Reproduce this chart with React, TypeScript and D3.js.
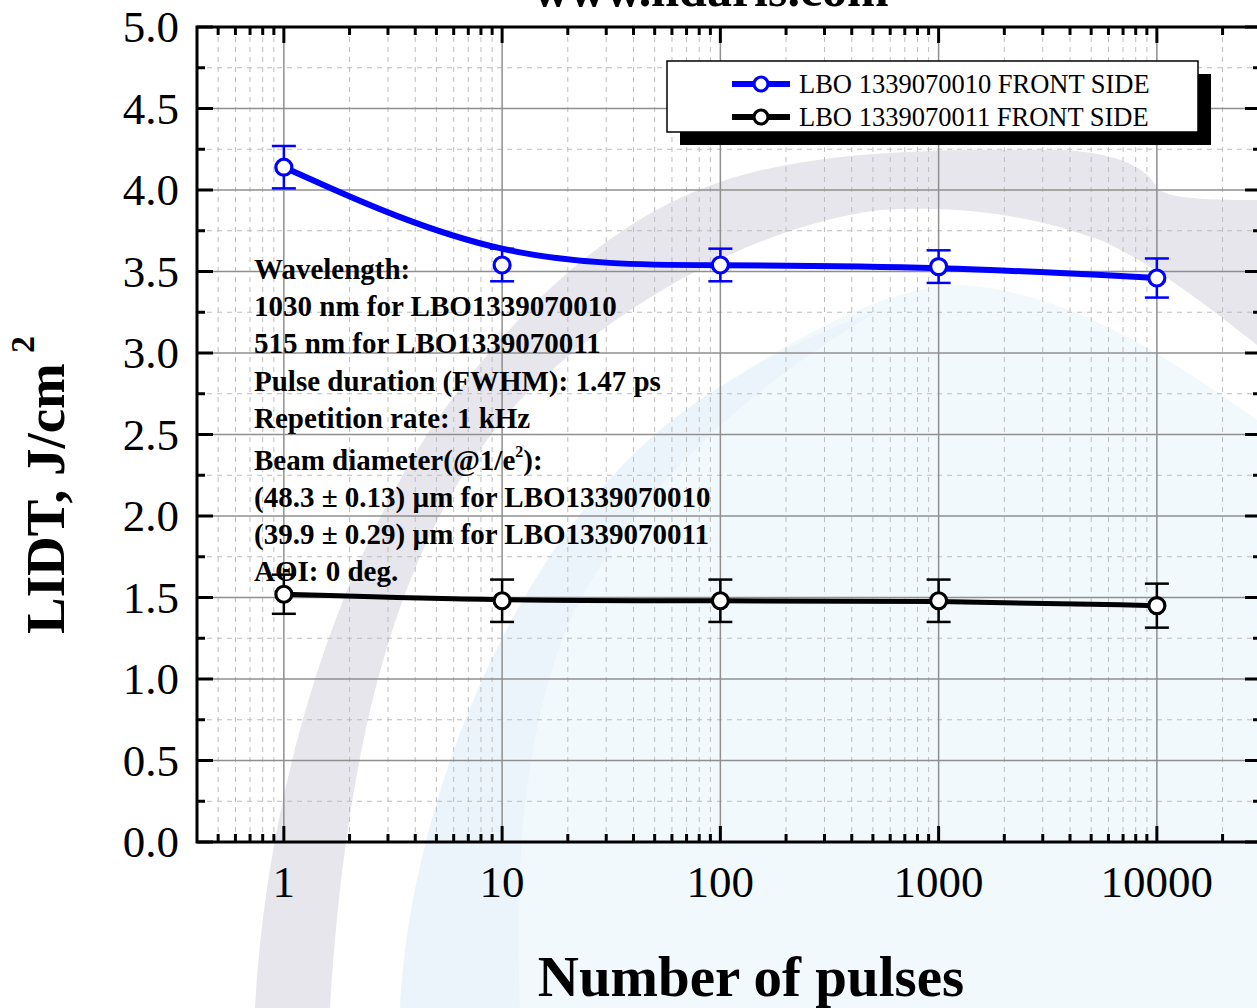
import React from "react";
import * as d3 from "d3";

const pulses = [1, 10, 100, 1000, 10000];
const blueValues = [4.14, 3.54, 3.54, 3.53, 3.46];
const blueErrors = [0.13, 0.1, 0.1, 0.1, 0.12];
const blackValues = [1.52, 1.48, 1.48, 1.48, 1.45];
const blackErrors = [0.12, 0.13, 0.13, 0.13, 0.135];
const seriesNames = ["LBO 1339070010 FRONT SIDE", "LBO 1339070011 FRONT SIDE"];
const xTickLabels = ["1", "10", "100", "1000", "10000"];
const yTickValues = [0, 0.5, 1, 1.5, 2, 2.5, 3, 3.5, 4, 4.5, 5];

const W = 1257;
const H = 1008;
const M = { left: 197, top: 27, right: 1261, bottom: 842 };
const SERIF = "'Liberation Serif', 'Times New Roman', serif";

export default function App() {
  const x = d3.scaleLog().domain([0.4, 30000]).range([M.left, M.right]);
  const y = d3.scaleLinear().domain([0, 5]).range([M.bottom, M.top]);

  const minorX: number[] = [];
  for (let e = -1; e <= 4; e++) {
    for (let k = 1; k <= 9; k++) {
      const v = k * Math.pow(10, e);
      if (v > 0.4 && v < 30000 && k !== 1) minorX.push(v);
    }
  }
  const majorX = pulses;
  const minorY = d3.range(0.25, 5, 0.5);

  const line = d3
    .line<number>()
    .x((_, i) => x(pulses[i]))
    .y((d) => y(d))
    .curve(d3.curveBasis);

  const series = [
    { values: blueValues, errors: blueErrors, color: "#0000ff", width: 6 },
    { values: blackValues, errors: blackErrors, color: "#000000", width: 5 },
  ];

  const infoLines: React.ReactNode[] = [
    "Wavelength:",
    "1030 nm for LBO1339070010",
    "515 nm for LBO1339070011",
    "Pulse duration (FWHM): 1.47 ps",
    "Repetition rate: 1 kHz",
  ];
  const infoLines2: React.ReactNode[] = [
    "(48.3 \u00b1 0.13) \u00b5m for LBO1339070010",
    "(39.9 \u00b1 0.29) \u00b5m for LBO1339070011",
    "A\u0398I: 0 deg.",
  ];

  return (
    <svg
      width={W}
      height={H}
      style={{ position: "absolute", left: 0, top: 0, background: "#fff" }}
      fontFamily={SERIF}
    >
      <rect x={0} y={0} width={W} height={H} fill="#fff" />
      {/* watermark */}
      <path
        d="M400,1008 C410,800 520,520 700,400 C820,320 900,285 960,285 C1060,290 1160,350 1257,420 L1257,1008 Z"
        fill="#f2f9fd"
      />
      <path
        d="M400,1008 C410,800 520,520 700,400 C760,360 820,330 880,310 C760,380 640,480 570,620 C520,740 515,880 520,1008 Z"
        fill="#e9f2fa"
        opacity={0.7}
      />
      <path
        d="M255,1008 C265,820 320,600 430,430 C520,300 620,215 720,182 C800,155 900,148 1060,150 C1110,152 1145,165 1155,185 C1160,198 1200,200 1257,200 L1257,345 C1200,300 1150,262 1100,240 C1030,215 960,205 880,210 C760,225 620,300 520,400 C420,510 350,680 330,1008 Z"
        fill="#e6e6ec"
      />

      {/* minor grid */}
      {minorX.map((v) => (
        <line key={"mx" + v} x1={x(v)} x2={x(v)} y1={M.top} y2={M.bottom} stroke="#bdbdbd" strokeWidth={1} strokeDasharray="5,5" />
      ))}
      {minorY.map((v) => (
        <line key={"my" + v} x1={M.left} x2={M.right} y1={y(v)} y2={y(v)} stroke="#bdbdbd" strokeWidth={1} strokeDasharray="5,5" />
      ))}
      {/* major grid */}
      {majorX.map((v) => (
        <line key={"Mx" + v} x1={x(v)} x2={x(v)} y1={M.top} y2={M.bottom} stroke="#8f8f8f" strokeWidth={1.5} />
      ))}
      {yTickValues.map((v) => (
        <line key={"My" + v} x1={M.left} x2={M.right} y1={y(v)} y2={y(v)} stroke="#8f8f8f" strokeWidth={1.5} />
      ))}

      {/* info text */}
      <g fontWeight="bold" fontSize={29} fill="#000">
        {infoLines.map((t, i) => (
          <text key={"i" + i} x={254} y={279 + i * 37.2}>{t}</text>
        ))}
        <text x={254} y={470}>
          Beam diameter(@1/e<tspan fontSize={16} dy={-13}>2</tspan><tspan dy={13}>):</tspan>
        </text>
        {infoLines2.map((t, i) => (
          <text key={"j" + i} x={254} y={507 + i * 37.2}>{t}</text>
        ))}
      </g>

      {/* series */}
      {series.map((s, si) => (
        <g key={"s" + si}>
          <path d={line(s.values) || ""} fill="none" stroke={s.color} strokeWidth={s.width} />
          {s.values.map((v, i) => {
            const cx = x(pulses[i]);
            const yt = y(v + s.errors[i]);
            const yb = y(v - s.errors[i]);
            return (
              <g key={"e" + i} stroke={s.color} strokeWidth={2.5}>
                <line x1={cx} x2={cx} y1={yt} y2={yb} />
                <line x1={cx - 12} x2={cx + 12} y1={yt} y2={yt} />
                <line x1={cx - 12} x2={cx + 12} y1={yb} y2={yb} />
              </g>
            );
          })}
          {s.values.map((v, i) => (
            <circle key={"c" + i} cx={x(pulses[i])} cy={y(v)} r={8} fill="#fff" stroke={s.color} strokeWidth={3.2} />
          ))}
        </g>
      ))}

      {/* axes frame */}
      <rect x={M.left} y={M.top} width={M.right - M.left} height={M.bottom - M.top} fill="none" stroke="#000" strokeWidth={3} />
      {/* x ticks */}
      {majorX.map((v) => (
        <g key={"tx" + v} stroke="#000" strokeWidth={3}>
          <line x1={x(v)} x2={x(v)} y1={M.bottom} y2={M.bottom - 16} />
          <line x1={x(v)} x2={x(v)} y1={M.top} y2={M.top + 16} />
        </g>
      ))}
      {minorX.map((v) => (
        <g key={"tmx" + v} stroke="#000" strokeWidth={3}>
          <line x1={x(v)} x2={x(v)} y1={M.bottom} y2={M.bottom - 8} />
          <line x1={x(v)} x2={x(v)} y1={M.top} y2={M.top + 8} />
        </g>
      ))}
      {/* y ticks */}
      {yTickValues.map((v) => (
        <g key={"ty" + v} stroke="#000" strokeWidth={3}>
          <line x1={M.left} x2={M.left + 16} y1={y(v)} y2={y(v)} />
          <line x1={M.right} x2={M.right - 16} y1={y(v)} y2={y(v)} />
        </g>
      ))}
      {minorY.map((v) => (
        <g key={"tmy" + v} stroke="#000" strokeWidth={3}>
          <line x1={M.left} x2={M.left + 8} y1={y(v)} y2={y(v)} />
          <line x1={M.right} x2={M.right - 8} y1={y(v)} y2={y(v)} />
        </g>
      ))}

      {/* tick labels */}
      {yTickValues.map((v) => (
        <text key={"ly" + v} x={179} y={y(v) + 15} textAnchor="end" fontSize={45} fill="#000">
          {v.toFixed(1)}
        </text>
      ))}
      {pulses.map((v, i) => (
        <text key={"lx" + v} x={x(v)} y={897} textAnchor="middle" fontSize={45} fill="#000">
          {xTickLabels[i]}
        </text>
      ))}

      {/* axis titles */}
      <text x={751} y={996} textAnchor="middle" fontSize={57} fontWeight="bold" fill="#000">
        Number of pulses
      </text>
      <text transform="translate(64,634) rotate(-90)" fontSize={55} fontWeight="bold" fill="#000">
        LIDT, J/cm<tspan fontSize={34} dx={10} dy={-30}>2</tspan>
      </text>

      {/* title */}
      <text x={711} y={6} textAnchor="middle" fontSize={50} fontWeight="bold" fill="#000">
        www.lidaris.com
      </text>

      {/* legend */}
      <rect x={680} y={74} width={531} height={71} fill="#000" />
      <rect x={667} y={61} width={531} height={71} fill="#fff" stroke="#000" strokeWidth={1.5} />
      {series.map((s, i) => {
        const ly = 84 + i * 33;
        return (
          <g key={"lg" + i}>
            <line x1={732} x2={790} y1={ly} y2={ly} stroke={s.color} strokeWidth={6} />
            <circle cx={761} cy={ly} r={7} fill="#fff" stroke={s.color} strokeWidth={3.2} />
            <text x={799} y={ly + 9} fontSize={26.5} fill="#000">
              {seriesNames[i]}
            </text>
          </g>
        );
      })}
    </svg>
  );
}
